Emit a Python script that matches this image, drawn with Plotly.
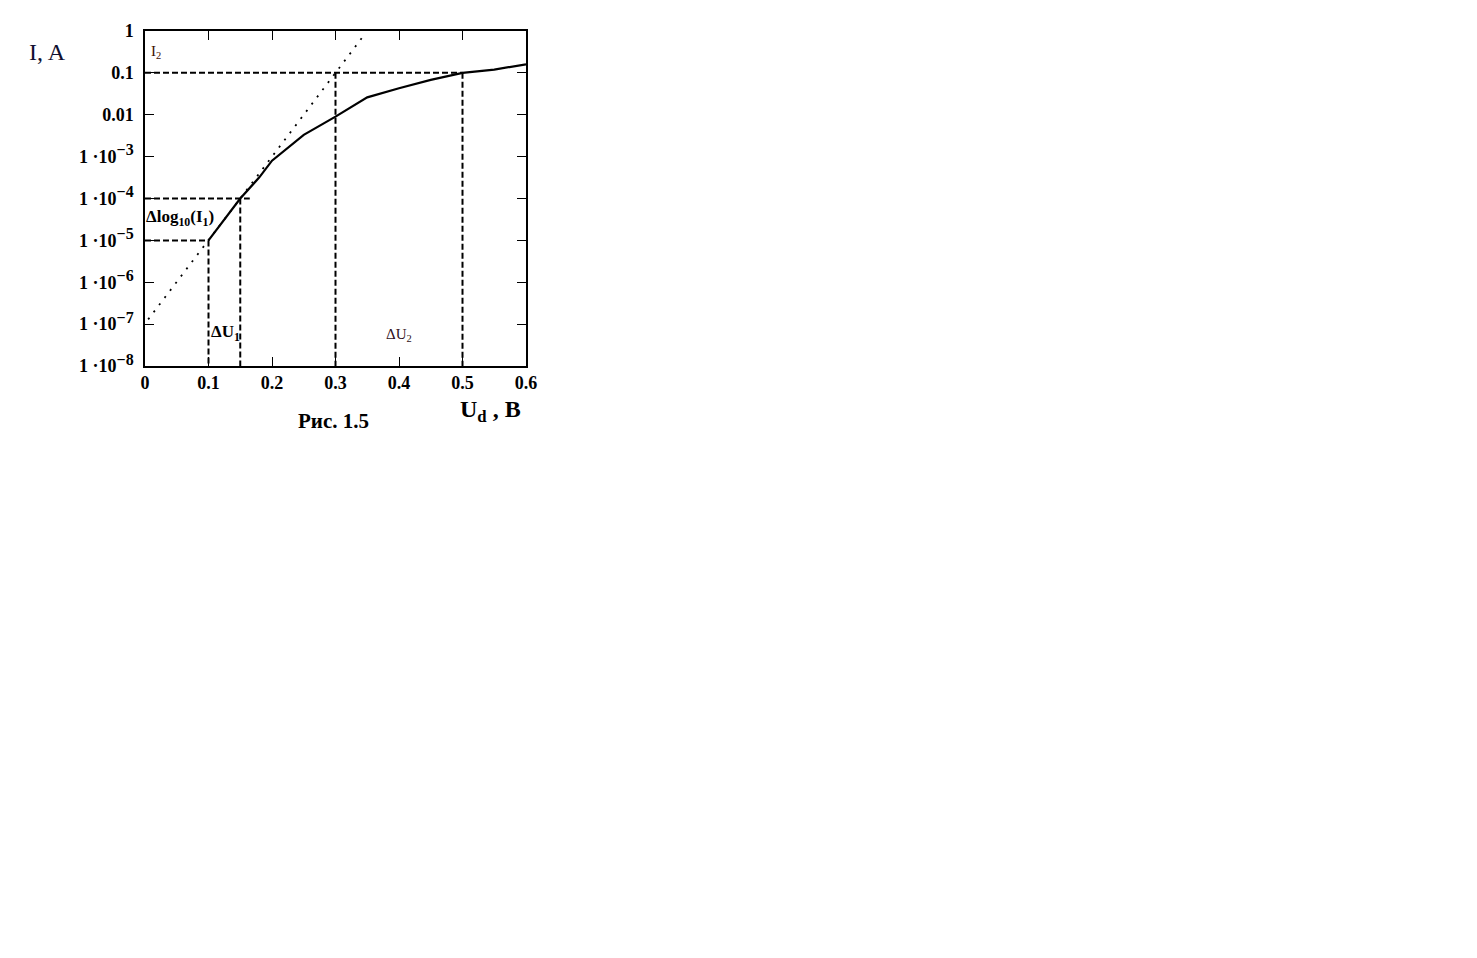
import plotly.graph_objects as go

# Solid diode characteristic (U_d in V, I in A)
curve_u = [0.10, 0.15, 0.18, 0.20, 0.25, 0.30, 0.35, 0.40, 0.45, 0.50, 0.55, 0.60]
curve_i = [1e-5, 1e-4, 3.2e-4, 8e-4, 3.3e-3, 9e-3, 2.6e-2, 4.3e-2, 6.8e-2, 0.1, 0.12, 0.16]

# Dotted exponential asymptote
dot_u = [0.005, 0.10, 0.15, 0.30, 0.345]
dot_i = [1.3e-7, 1e-5, 1e-4, 0.1, 0.8]

# Dashed guide lines
hline_y = [0.1, 1e-4, 1e-5]
hline_xend = [0.5, 0.165, 0.1]
vline_x = [0.3, 0.5, 0.15, 0.1]
vline_ytop = [0.1, 0.1, 1e-4, 1e-5]

SERIF = "Liberation Serif, Times New Roman, serif"


def sup(e):
    return f"1 ·10<sup><span style='font-size:16px'>−{e}</span></sup>"


x_ticks = [0, 0.1, 0.2, 0.3, 0.4, 0.5, 0.6]
x_ticktext = ["0", "0.1", "0.2", "0.3", "0.4", "0.5", "0.6"]
y_ticks = [1, 0.1, 0.01, 1e-3, 1e-4, 1e-5, 1e-6, 1e-7, 1e-8]
y_ticktext = ["1", "0.1", "0.01"] + [sup(e) for e in range(3, 9)]

dash = "6px,3px"

fig = go.Figure()
for y, xe in zip(hline_y, hline_xend):
    fig.add_trace(go.Scatter(x=[0, xe], y=[y, y], mode="lines",
                             line=dict(color="black", width=2, dash=dash),
                             showlegend=False, hoverinfo="skip"))
for x, yt in zip(vline_x, vline_ytop):
    fig.add_trace(go.Scatter(x=[x, x], y=[yt, 1e-8], mode="lines",
                             line=dict(color="black", width=2, dash=dash),
                             showlegend=False, hoverinfo="skip"))
fig.add_trace(go.Scatter(x=dot_u, y=dot_i, mode="lines",
                         line=dict(color="black", width=1.8, dash="2px,7px"),
                         showlegend=False))
fig.add_trace(go.Scatter(x=curve_u, y=curve_i, mode="lines",
                         line=dict(color="black", width=2.2),
                         showlegend=False))

fig.update_xaxes(range=[0, 0.6], tickvals=x_ticks, ticktext=x_ticktext,
                 ticks="inside", ticklen=9, tickwidth=1.3, tickcolor="black",
                 showline=True, linecolor="black", linewidth=1.5, mirror="allticks",
                 showgrid=False, zeroline=False,
                 tickfont=dict(family=SERIF, size=18, color="black", weight="bold"))
fig.update_yaxes(type="log", range=[-8, 0], tickvals=y_ticks, ticktext=y_ticktext,
                 ticks="inside", ticklen=9, tickwidth=1.3, tickcolor="black",
                 showline=True, linecolor="black", linewidth=1.5, mirror="allticks",
                 showgrid=False, zeroline=False, ticklabelstandoff=6,
                 tickfont=dict(family=SERIF, size=18, color="black", weight="bold"))

anns = [
    dict(text="I, A", xref="paper", yref="paper", x=-0.257, y=0.937,
         font=dict(family=SERIF, size=24, color="#101030")),
    dict(text="U<sub>d</sub> , B", xref="paper", yref="paper", x=0.906, y=-0.134,
         font=dict(family=SERIF, size=24, color="black", weight="bold")),
    dict(text="Рис. 1.5", xref="paper", yref="paper", x=0.496, y=-0.164,
         font=dict(family=SERIF, size=21, color="black", weight="bold")),
    dict(text="I<sub>2</sub>", xref="x", yref="y", x=0.018, y=-0.5,
         font=dict(family=SERIF, size=15, color="#401000")),
    dict(text="Δlog<sub>10</sub>(I<sub>1</sub>)", xref="x", yref="y", x=0.055, y=-4.47,
         font=dict(family=SERIF, size=17, color="black", weight="bold")),
    dict(text="ΔU<sub>1</sub>", xref="x", yref="y", x=0.126, y=-7.2,
         font=dict(family=SERIF, size=17, color="black", weight="bold")),
    dict(text="ΔU<sub>2</sub>", xref="x", yref="y", x=0.4, y=-7.26,
         font=dict(family=SERIF, size=15, color="#301020")),
]
for a in anns:
    a.update(showarrow=False, xanchor="center", yanchor="middle")
fig.update_layout(annotations=anns)

fig.update_layout(width=1477, height=958, autosize=False,
                  margin=dict(l=137, r=959, t=23, b=600, pad=0),
                  paper_bgcolor="white", plot_bgcolor="white",
                  showlegend=False)

fig.write_html("out.html")
